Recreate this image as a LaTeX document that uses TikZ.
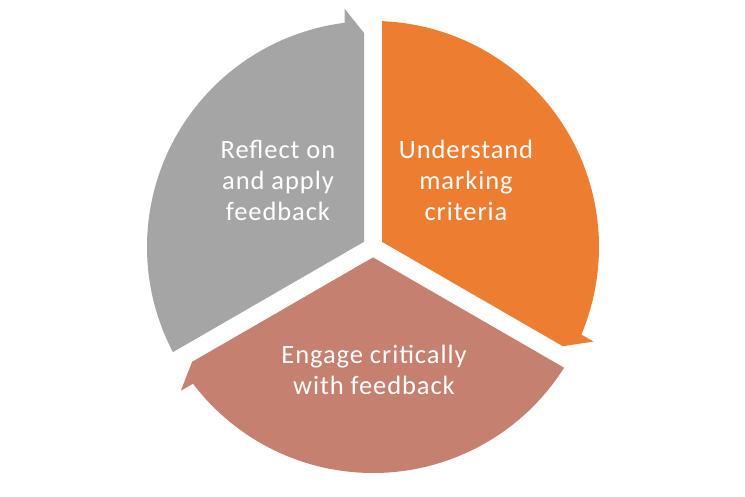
\documentclass[tikz,border=0pt]{standalone}
\usepackage{fontspec}
\setmainfont[LetterSpace=3.5]{Carlito}
\usetikzlibrary{calc}
\definecolor{segGray}{HTML}{A5A5A5}
\definecolor{segOrange}{HTML}{ED7D31}
\definecolor{segBrown}{HTML}{C5806F}
\tikzset{
  seglabel/.style={text=white, align=center, inner sep=0pt,
    font=\fontsize{26.5pt}{31pt}\selectfont}
}
\begin{document}
\begin{tikzpicture}[x=1pt,y=1pt]
\useasboundingbox (0,0) rectangle (745,496);
\coordinate (C) at (373,249);
\foreach \a/\col in {90/segGray, -30/segOrange, 210/segBrown}{
  \fill[\col] ($(C)+(\a+60:10.39)$)
    -- ($(C)+(\a+120:225.82)+(\a+30:9)$)
    arc[start angle=\a+117.72, end angle=\a+7.2, radius=226]
    -- ($(C)+(\a+6.8:240)$)
    -- ($(C)+(\a:214)+(\a+90:9)$)
    -- cycle;
}
\node[seglabel] (reflect) at (278,315.2) {Reflect on\\and apply\\feedback};
\node[seglabel] (understand) at (466,315.7) {Understand\\marking\\criteria};
\node[seglabel] (engage) at (374,126.2) {Engage critically\\with feedback};
\end{tikzpicture}
\end{document}
